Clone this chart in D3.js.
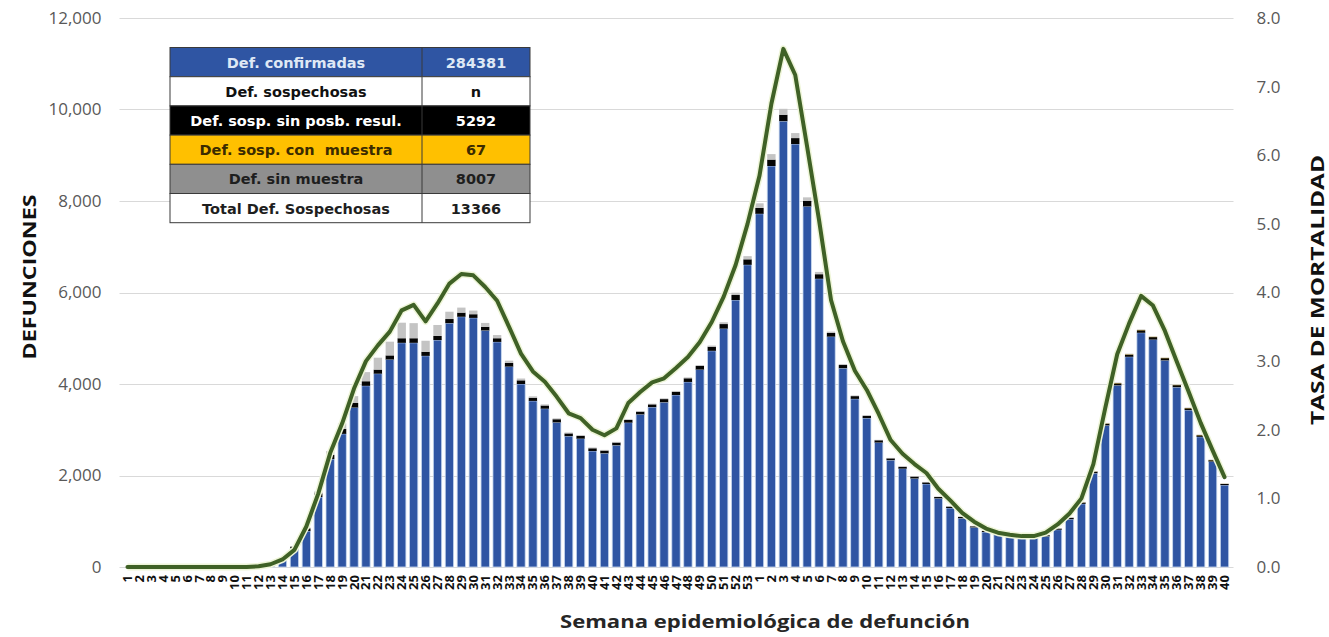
<!DOCTYPE html>
<html>
<head>
<meta charset="utf-8">
<script src="https://cdn.jsdelivr.net/npm/d3@7"></script>
<style>
  body { margin: 0; background: #fff; }
  svg { display: block; font-family: "Open Sans", "Noto Sans", sans-serif; }
</style>
</head>
<body>
<svg id="chart" width="1329" height="637"></svg>
<script>
// semanas epidemiologicas: 2020 (1-53) y 2021 (1-40)
const semanas = [
  '1','2','3','4','5','6','7','8','9','10','11','12','13','14','15','16','17','18','19','20',
  '21','22','23','24','25','26','27','28','29','30','31','32','33','34','35','36','37','38','39','40',
  '41','42','43','44','45','46','47','48','49','50','51','52','53',
  '1','2','3','4','5','6','7','8','9','10','11','12','13','14','15','16','17','18','19','20',
  '21','22','23','24','25','26','27','28','29','30','31','32','33','34','35','36','37','38','39','40'
];
// defunciones confirmadas (azul)
const confirmadas = [
  0,0,0,0,0,0,0,0,0,0,0,10,35,160,405,785,1530,2360,2910,3485,
  3960,4225,4535,4900,4900,4615,4960,5330,5470,5445,5170,4920,4380,4000,3630,3460,3160,2860,2805,2535,
  2485,2660,3155,3335,3495,3600,3760,4045,4315,4725,5210,5835,6605,
  7720,8765,9745,9245,7880,6300,5035,4345,3675,3255,2720,2335,2150,1935,1815,1500,1290,1065,865,765,
  715,655,640,630,670,815,1045,1380,2050,3095,3970,4595,5120,4970,4515,3930,3430,2845,2305,1790
];
// def. sosp. sin posibilidad de resultado (negro)
const sinPosibilidad = [
  0,0,0,0,0,0,0,0,0,0,0,0,5,20,40,60,80,90,110,100,
  100,90,90,100,100,90,90,90,90,80,80,80,80,80,70,70,70,60,60,60,
  60,60,60,60,60,70,70,80,80,90,100,110,120,
  130,140,140,130,120,100,80,70,60,50,50,40,40,40,35,30,30,30,25,25,
  25,25,25,25,25,25,30,30,35,40,45,50,55,55,50,45,40,35,30,25
];
// def. sosp. con muestra (amarillo)
const conMuestra = [
  0,0,0,0,0,0,0,0,0,0,0,0,0,0,0,0,0,0,0,0,
  0,0,0,0,0,0,0,0,0,0,0,0,0,0,0,0,0,0,0,0,
  0,0,0,0,0,0,0,0,0,0,0,0,0,
  0,0,0,0,0,0,0,0,0,0,0,0,0,0,0,0,0,0,0,0,
  0,0,0,0,0,0,0,3,4,5,6,6,7,7,6,6,5,5,4,3
];
// def. sin muestra (gris)
const sinMuestra = [
  0,0,0,0,0,0,0,0,0,0,0,0,0,5,10,20,40,80,120,150,
  200,260,300,340,330,240,240,160,110,80,85,70,50,40,30,25,20,20,20,18,
  15,15,15,15,15,18,18,20,20,25,40,50,70,
  100,120,130,110,80,50,30,20,15,12,10,10,10,10,10,10,10,10,10,10,
  10,10,10,10,10,10,10,10,10,10,10,12,12,12,10,10,10,10,10,10
];
// tasa de mortalidad (eje derecho)
const tasa = [
  0,0,0,0,0,0,0,0,0,0,0,0.01,0.04,0.11,0.25,0.59,1.07,1.66,2.09,2.6,
  3.0,3.23,3.43,3.74,3.82,3.58,3.84,4.13,4.27,4.25,4.08,3.88,3.5,3.11,2.85,2.7,2.48,2.24,2.17,2.0,
  1.92,2.02,2.39,2.55,2.69,2.75,2.9,3.06,3.28,3.57,3.94,4.4,5.0,
  5.7,6.75,7.55,7.17,6.12,5.05,3.89,3.29,2.86,2.58,2.23,1.85,1.65,1.5,1.37,1.14,0.97,0.79,0.66,0.56,
  0.5,0.47,0.45,0.45,0.5,0.62,0.78,1.0,1.5,2.32,3.1,3.55,3.95,3.81,3.44,2.99,2.55,2.1,1.7,1.31
];
const ticksIzq = [0, 2000, 4000, 6000, 8000, 10000, 12000];
const ticksDer = [0, 1, 2, 3, 4, 5, 6, 7, 8];

// tabla resumen
const tablaEtiquetas = ['Def. confirmadas', 'Def. sospechosas', 'Def. sosp. sin posb. resul.',
  'Def. sosp. con  muestra', 'Def. sin muestra', 'Total Def. Sospechosas'];
const tablaValores = ['284381', 'n', '5292', '67', '8007', '13366'];
const tablaFondo = ['#2f55a3', '#ffffff', '#000000', '#ffc000', '#8f8f8f', '#ffffff'];
const tablaTexto = ['#dfe8f5', '#111111', '#ffffff', '#3b2b00', '#1e1e1e', '#1e1e1e'];

const svg = d3.select('#chart');
const izq = 121.5, der = 1230.5, arriba = 18, abajo = 567;

const x = d3.scaleBand()
  .domain(d3.range(semanas.length))
  .range([izq, der])
  .paddingInner(0.3)
  .paddingOuter(0.15);
const y = d3.scaleLinear().domain([0, 12000]).range([abajo, arriba]);
const y2 = d3.scaleLinear().domain([0, 8]).range([abajo, arriba]);

// rejilla
svg.append('g')
  .selectAll('line')
  .data(ticksIzq)
  .enter()
  .append('line')
  .attr('x1', izq - 2)
  .attr('x2', der + 3)
  .attr('y1', d => Math.round(y(d)) + 0.5)
  .attr('y2', d => Math.round(y(d)) + 0.5)
  .attr('stroke', '#d9d9d9')
  .attr('stroke-width', 1);

// eje izquierdo
const ejeIzq = svg.append('g')
  .attr('transform', 'translate(' + (izq - 20) + ',0)')
  .call(d3.axisLeft(y).tickValues(ticksIzq).tickSize(0).tickPadding(0).tickFormat(d3.format(',')));
ejeIzq.select('.domain').remove();
ejeIzq.selectAll('text')
  .attr('fill', '#595959')
  .attr('font-size', 17)
  .attr('font-family', '"Open Sans", sans-serif');

// eje derecho
const ejeDer = svg.append('g')
  .attr('transform', 'translate(' + (der + 26) + ',0)')
  .call(d3.axisRight(y2).tickValues(ticksDer).tickSize(0).tickPadding(0).tickFormat(d3.format('.1f')));
ejeDer.select('.domain').remove();
ejeDer.selectAll('text')
  .attr('fill', '#595959')
  .attr('font-size', 17)
  .attr('font-family', '"Open Sans", sans-serif');

// barras apiladas
const filas = semanas.map((s, i) => ({
  i: i,
  confirmadas: confirmadas[i],
  sinPosibilidad: sinPosibilidad[i],
  conMuestra: conMuestra[i],
  sinMuestra: sinMuestra[i]
}));
const claves = ['confirmadas', 'sinPosibilidad', 'conMuestra', 'sinMuestra'];
const colores = {
  confirmadas: '#2f55a3',
  sinPosibilidad: '#050505',
  conMuestra: '#ffc000',
  sinMuestra: '#c4c4c4'
};
const series = d3.stack().keys(claves)(filas);

svg.append('g')
  .selectAll('g')
  .data(series)
  .enter()
  .append('g')
  .attr('fill', d => colores[d.key])
  .attr('stroke', d => d.key === 'confirmadas' ? '#c7d8ef' : 'none')
  .attr('stroke-width', 0.8)
  .selectAll('rect')
  .data(d => d.filter(v => v[1] > v[0]))
  .enter()
  .append('rect')
  .attr('x', d => x(d.data.i))
  .attr('width', x.bandwidth())
  .attr('y', d => y(d[1]))
  .attr('height', d => y(d[0]) - y(d[1]));

// linea de tasa
const linea = d3.line()
  .x((d, i) => x(i) + x.bandwidth() / 2)
  .y(d => y2(d));

svg.append('path')
  .datum(tasa)
  .attr('d', linea)
  .attr('fill', 'none')
  .attr('stroke', '#eef5d8')
  .attr('stroke-width', 7)
  .attr('stroke-linejoin', 'round');
svg.append('path')
  .datum(tasa)
  .attr('d', linea)
  .attr('fill', 'none')
  .attr('stroke', '#3f6126')
  .attr('stroke-width', 4)
  .attr('stroke-linejoin', 'round')
  .attr('stroke-linecap', 'round');

// etiquetas del eje x
svg.append('g')
  .selectAll('text')
  .data(semanas)
  .enter()
  .append('text')
  .attr('transform', (d, i) => 'translate(' + (x(i) + x.bandwidth() / 2 + 4.5) + ',575) rotate(-90)')
  .attr('text-anchor', 'end')
  .attr('font-size', 13)
  .attr('font-weight', 'bold')
  .attr('fill', '#111')
  .text(d => d);

// titulos de ejes
svg.append('text')
  .attr('x', 765)
  .attr('y', 628)
  .attr('text-anchor', 'middle')
  .attr('font-size', 18)
  .attr('font-weight', 'bold')
  .attr('fill', '#262626')
  .attr('textLength', 410)
  .attr('lengthAdjust', 'spacingAndGlyphs')
  .text('Semana epidemiológica de defunción');

svg.append('text')
  .attr('transform', 'translate(36,277) rotate(-90)')
  .attr('text-anchor', 'middle')
  .attr('font-size', 17)
  .attr('font-weight', 'bold')
  .attr('fill', '#111')
  .attr('textLength', 165)
  .attr('lengthAdjust', 'spacingAndGlyphs')
  .text('DEFUNCIONES');

svg.append('text')
  .attr('transform', 'translate(1324,290) rotate(-90)')
  .attr('text-anchor', 'middle')
  .attr('font-size', 17)
  .attr('font-weight', 'bold')
  .attr('fill', '#111')
  .attr('textLength', 270)
  .attr('lengthAdjust', 'spacingAndGlyphs')
  .text('TASA DE MORTALIDAD');

// tabla
const tx0 = 170, tx1 = 422, tx2 = 530, ty0 = 47.5, filaAlto = 29.2;
const tabla = svg.append('g')
  .attr('font-family', '"DejaVu Sans", sans-serif');
const filaG = tabla.selectAll('g')
  .data(tablaEtiquetas)
  .enter()
  .append('g')
  .attr('transform', (d, i) => 'translate(0,' + (ty0 + i * filaAlto) + ')');
filaG.append('rect')
  .attr('x', tx0)
  .attr('width', tx2 - tx0)
  .attr('height', filaAlto)
  .attr('fill', (d, i) => tablaFondo[i])
  .attr('stroke', '#3a3a3a')
  .attr('stroke-width', 1);
filaG.append('line')
  .attr('x1', tx1).attr('x2', tx1)
  .attr('y1', 0).attr('y2', filaAlto)
  .attr('stroke', '#3a3a3a');
filaG.append('text')
  .attr('x', (tx0 + tx1) / 2)
  .attr('y', filaAlto / 2 + 5.5)
  .attr('text-anchor', 'middle')
  .attr('font-size', 14.5)
  .attr('font-weight', 'bold')
  .attr('fill', (d, i) => tablaTexto[i])
  .attr('xml:space', 'preserve')
  .style('white-space', 'pre')
  .text(d => d);
filaG.append('text')
  .attr('x', (tx1 + tx2) / 2)
  .attr('y', filaAlto / 2 + 5.5)
  .attr('text-anchor', 'middle')
  .attr('font-size', 14.5)
  .attr('font-weight', 'bold')
  .attr('fill', (d, i) => tablaTexto[i])
  .text((d, i) => tablaValores[i]);
</script>
</body>
</html>
